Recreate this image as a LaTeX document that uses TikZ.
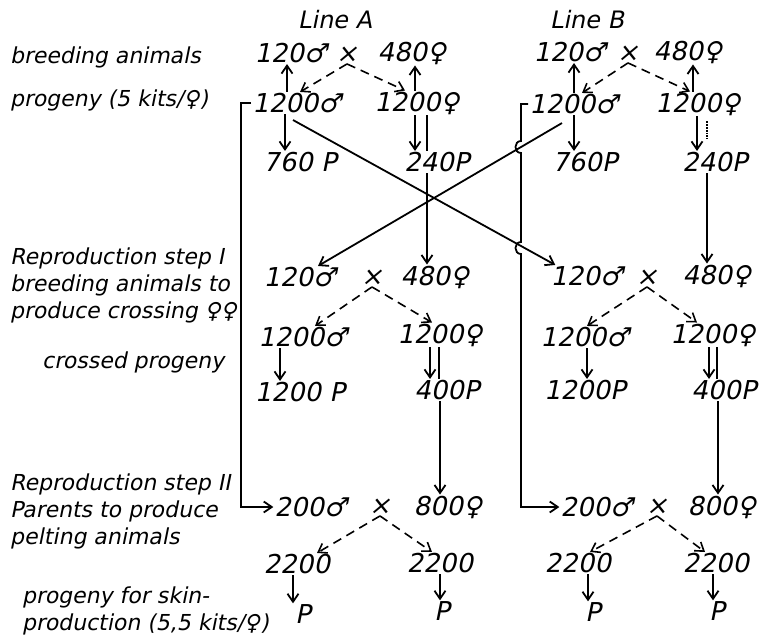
\documentclass[tikz,border=0pt]{standalone}
\usepackage{fontspec}
\newfontfamily\hand{DejaVu Sans}[FakeSlant=0.2]
\usepackage{tikz}
\usetikzlibrary{arrows.meta, positioning, calc}

\begin{document}
\begin{tikzpicture}[x=1pt, y=-1pt,
        num/.style={font=\hand\fontsize{26}{28}\selectfont, inner sep=1pt},
        lbl/.style={font=\hand\fontsize{22}{27}\selectfont, anchor=west, align=left, inner sep=0pt},
        hdr/.style={font=\hand\fontsize{24}{28}\selectfont, inner sep=1pt},
        arrow/.style={-{Straight Barb[length=8pt,width=11pt]}, line width=1.8pt},
        mate/.style={arrow, line width=1.6pt, dash pattern=on 9pt off 6pt},
        plain/.style={line width=1.8pt}
    ]
    \useasboundingbox (0,0) rectangle (762,639);

    % Headings
    \node[hdr] (lineA) at (335,20) {Line A};
    \node[hdr] (lineB) at (587,20) {Line B};

    % Row labels
    \node[lbl] (lbBreed) at (10,57) {breeding animals};
    \node[lbl] (lbProg) at (10,100) {progeny (5 kits/♀)};
    \node[lbl] (lbStepI) at (10,285) {Reproduction step I\\breeding animals to\\produce crossing ♀♀};
    \node[lbl] (lbCross) at (42,362) {crossed progeny};
    \node[lbl] (lbStepII) at (10,511) {Reproduction step II\\Parents to produce\\pelting animals};
    \node[lbl] (lbSkin) at (22,611) {progeny for skin-\\production (5,5 kits/♀)};

    % Line A - breeding animals and progeny
    \node[num] (a1m) at (291,53) {120♂};
    \node[num] (a1x) at (347,55) {×};
    \node[num] (a1f) at (412,53) {480♀};
    \node[num] (a2m) at (297,103) {1200♂};
    \node[num] (a2f) at (417,103) {1200♀};
    \node[num] (a3m) at (300,162) {760 P};
    \node[num] (a3f) at (437,162) {240P};

    % Line B - breeding animals and progeny
    \node[num] (b1m) at (570,52) {120♂};
    \node[num] (b1x) at (628,54) {×};
    \node[num] (b1f) at (688,52) {480♀};
    \node[num] (b2m) at (574,104) {1200♂};
    \node[num] (b2f) at (698,104) {1200♀};
    \node[num] (b3m) at (585,162) {760P};
    \node[num] (b3f) at (715,162) {240P};

    % Reproduction step I
    \node[num] (a4m) at (300,277) {120♂};
    \node[num] (a4x) at (372,278) {×};
    \node[num] (a4f) at (435,277) {480♀};
    \node[num] (a5m) at (303,337) {1200♂};
    \node[num] (a5f) at (440,335) {1200♀};
    \node[num] (a6m) at (300,392) {1200 P};
    \node[num] (a6f) at (447,390) {400P};

    \node[num] (b4m) at (587,276) {120♂};
    \node[num] (b4x) at (647,278) {×};
    \node[num] (b4f) at (717,276) {480♀};
    \node[num] (b5m) at (585,337) {1200♂};
    \node[num] (b5f) at (713,335) {1200♀};
    \node[num] (b6m) at (585,390) {1200P};
    \node[num] (b6f) at (724,390) {400P};

    % Reproduction step II
    \node[num] (a7m) at (311,507) {200♂};
    \node[num] (a7x) at (380,507) {×};
    \node[num] (a7f) at (448,507) {800♀};
    \node[num] (a8m) at (297,564) {2200};
    \node[num] (a8f) at (440,563) {2200};
    \node[num] (a9m) at (303,614) {P};
    \node[num] (a9f) at (442,611) {P};

    \node[num] (b7m) at (597,507) {200♂};
    \node[num] (b7x) at (657,507) {×};
    \node[num] (b7f) at (722,507) {800♀};
    \node[num] (b8m) at (578,563) {2200};
    \node[num] (b8f) at (716,563) {2200};
    \node[num] (b9m) at (593,612) {P};
    \node[num] (b9f) at (717,611) {P};

    % Arrows - Line A top
    \draw[arrow] ([xshift=-10pt]a2m.north) -- ([xshift=-10pt]a2m.north |- a1m.south);
    \draw[arrow] ([xshift=-2pt]a2f.north) -- ([xshift=-2pt]a2f.north |- a1f.south);
    \draw[mate] (a1x.south) -- ([xshift=3pt]a2m.north);
    \draw[mate] (a1x.south) -- ([xshift=-12pt]a2f.north);
    \draw[arrow] ([xshift=-12pt]a2m.south) -- ([xshift=-12pt]a2m.south |- a3m.north);
    \draw[arrow] ([xshift=-2pt]a2f.south) -- ([xshift=-2pt]a2f.south |- a3f.north);
    \draw[plain] ([xshift=10pt]a2f.south) -- ([xshift=10pt]a2f.south |- a3f.north);

    % Arrows - Line B top
    \draw[arrow] (b2m.north) -- (b2m.north |- b1m.south);
    \draw[arrow] ([xshift=-5pt]b2f.north) -- ([xshift=-5pt]b2f.north |- b1f.south);
    \draw[mate] (b1x.south) -- ([xshift=8pt]b2m.north);
    \draw[mate] (b1x.south) -- ([xshift=-8pt]b2f.north);
    \draw[arrow] (b2m.south) -- (b2m.south |- b3m.north);
    \draw[arrow] ([xshift=-1pt]b2f.south) -- ([xshift=-1pt]b2f.south |- b3f.north);
    \draw[plain, densely dotted, line width=1.2pt, shorten <=5pt, shorten >=12pt] ([xshift=9pt]b2f.south) -- ([xshift=9pt]b2f.south |- b3f.north);

    % Arrows - crossing of the lines
    \draw[arrow] ([xshift=-10pt]a3f.south) -- ([xshift=-10pt]a3f.south |- a4f.north);
    \draw[arrow] ([xshift=-8pt]b3f.south) -- ([xshift=-8pt]b3f.south |- b4f.north);
    \draw[arrow] ([xshift=-4pt,yshift=-6pt]a2m.south) -- ([xshift=6pt]b4m.north west);
    \draw[arrow] ([xshift=-12pt,yshift=-8pt]b2m.south) -- ([xshift=18pt]a4m.north);

    % Arrows - Reproduction step I
    \draw[mate] (a4x.south) -- ([xshift=12pt]a5m.north);
    \draw[mate] (a4x.south) -- ([xshift=-8pt]a5f.north);
    \draw[arrow] ([xshift=-23pt]a5m.south) -- ([xshift=-23pt]a5m.south |- a6m.north);
    \draw[arrow] ([xshift=-10pt]a5f.south) -- ([xshift=-10pt]a5f.south |- a6f.north);
    \draw[plain] ([xshift=-1pt]a5f.south) -- ([xshift=-1pt]a5f.south |- a6f.north);

    \draw[mate] (b4x.south) -- ([xshift=2pt]b5m.north);
    \draw[mate] (b4x.south) -- ([xshift=-16pt]b5f.north);
    \draw[arrow] ([xshift=2pt]b5m.south) -- ([xshift=2pt]b5m.south |- b6m.north);
    \draw[arrow] ([xshift=-4pt]b5f.south) -- ([xshift=-4pt]b5f.south |- b6f.north);
    \draw[plain] ([xshift=4pt]b5f.south) -- ([xshift=4pt]b5f.south |- b6f.north);

    % Arrows - to Reproduction step II
    \draw[arrow] ([xshift=-7pt]a6f.south) -- ([xshift=-7pt]a6f.south |- a7f.north);
    \draw[arrow] ([xshift=-6pt]b6f.south) -- ([xshift=-6pt]b6f.south |- b7f.north);
    \draw[arrow] (a2m.west) -- ++(-10,0) |- (a7m.west);
    \draw[arrow] (b2m.west) -- ++(-7,0) -- ++(0,37)
        to[out=180, in=180, looseness=1.6] ++(0,12) -- ++(0,89)
        to[out=180, in=180, looseness=1.6] ++(0,12) |- (b7m.west);

    % Arrows - Reproduction step II
    \draw[mate] (a7x.south) -- ([xshift=20pt]a8m.north);
    \draw[mate] (a7x.south) -- ([xshift=-8pt]a8f.north);
    \draw[arrow] ([xshift=-4pt]a8m.south) -- ([xshift=-4pt]a8m.south |- a9m.north);
    \draw[arrow] (a8f.south) -- (a8f.south |- a9f.north);

    \draw[mate] (b7x.south) -- ([xshift=12pt]b8m.north);
    \draw[mate] (b7x.south) -- ([xshift=-11pt]b8f.north);
    \draw[arrow] ([xshift=10pt]b8m.south) -- ([xshift=10pt]b8m.south |- b9m.north);
    \draw[arrow] ([xshift=-3pt]b8f.south) -- ([xshift=-3pt]b8f.south |- b9f.north);

\end{tikzpicture}
\end{document}
